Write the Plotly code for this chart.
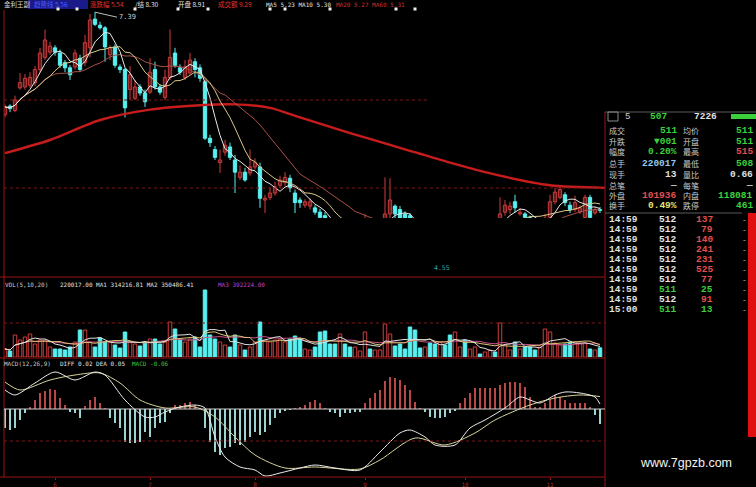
import plotly.graph_objects as go
import pandas as pd

W, H = 756, 487

# ---------------- data ----------------
opens = [6.21, 6.31, 6.26, 6.52, 6.53, 6.55, 6.58, 6.73, 6.87, 6.93,
         6.98, 6.92, 6.81, 6.75, 6.76, 6.86, 6.81, 6.98, 7.31, 7.24,
         7.21, 6.90, 6.99, 6.76, 6.73, 6.50, 6.40, 6.53, 6.46, 6.47,
         6.73, 6.53, 6.41, 6.64, 6.92, 6.75, 6.64, 6.69, 6.82, 6.75,
         6.59, 5.94, 5.81, 5.66, 5.78, 5.84, 5.69, 5.49, 5.55, 5.54,
         5.61, 5.61, 5.23, 5.26, 5.31, 5.40, 5.43, 5.48, 5.31, 5.23,
         5.17, 5.16, 5.14, 5.09, 5.05, 4.98, 4.86, 4.75, 4.82, 4.72,
         4.66, 4.71, 4.79, 4.86, 4.81, 4.91, 5.00, 5.07, 5.16, 5.12,
         5.07, 5.05, 5.00, 4.91, 4.82, 4.87, 4.77, 4.68, 4.75, 4.66,
         4.59, 4.66, 4.73, 4.68, 4.77, 4.84, 4.80, 4.89, 4.95, 4.98,
         5.09, 5.12, 5.21, 5.07, 5.07, 5.03, 4.98, 4.91, 4.97, 5.03,
         5.21, 5.26, 5.29, 5.17, 5.12, 5.09, 5.03, 5.26, 5.08, 5.12]
highs = [6.33, 6.33, 6.43, 6.69, 6.68, 6.70, 6.77, 6.98, 7.19, 7.05,
         7.01, 6.96, 6.84, 6.78, 6.96, 6.90, 7.13, 7.37, 7.39, 7.28,
         7.23, 7.01, 7.02, 6.79, 6.75, 6.77, 6.61, 6.56, 6.50, 6.86,
         6.82, 6.56, 6.73, 7.19, 6.98, 6.79, 6.84, 6.92, 6.86, 6.79,
         6.61, 5.98, 5.85, 5.81, 5.92, 5.89, 5.75, 5.63, 5.60, 5.81,
         5.71, 5.66, 5.29, 5.37, 5.44, 5.51, 5.55, 5.52, 5.35, 5.26,
         5.24, 5.25, 5.17, 5.13, 5.09, 5.00, 4.91, 4.86, 4.85, 4.77,
         4.77, 4.84, 5.07, 4.91, 4.95, 5.02, 5.49, 5.48, 5.18, 5.16,
         5.10, 5.08, 5.01, 4.93, 4.92, 4.90, 4.80, 4.78, 4.78, 4.69,
         4.70, 4.76, 4.76, 4.80, 4.87, 4.87, 4.92, 4.99, 4.98, 5.26,
         5.23, 5.21, 5.29, 5.14, 5.09, 5.05, 5.00, 5.00, 5.07, 5.29,
         5.37, 5.39, 5.32, 5.21, 5.28, 5.17, 5.29, 5.29, 5.15, 5.15]
lows = [6.18, 6.24, 6.24, 6.50, 6.50, 6.52, 6.54, 6.70, 6.84, 6.90,
        6.89, 6.75, 6.70, 6.61, 6.73, 6.70, 6.77, 6.87, 7.23, 7.19,
        6.82, 6.84, 6.75, 6.69, 6.18, 6.38, 6.38, 6.43, 6.30, 6.45,
        6.50, 6.44, 6.38, 6.61, 6.75, 6.67, 6.61, 6.67, 6.64, 6.59,
        5.92, 5.84, 5.69, 5.54, 5.74, 5.69, 5.31, 5.46, 5.44, 5.51,
        5.58, 5.14, 5.08, 5.23, 5.28, 5.37, 5.39, 5.32, 5.08, 5.14,
        5.14, 5.12, 5.06, 4.98, 4.93, 4.83, 4.72, 4.70, 4.68, 4.61,
        4.59, 4.68, 4.77, 4.77, 4.79, 4.88, 4.98, 5.02, 5.02, 4.98,
        4.98, 4.95, 4.88, 4.80, 4.79, 4.74, 4.66, 4.64, 4.62, 4.55,
        4.56, 4.63, 4.65, 4.66, 4.74, 4.77, 4.78, 4.86, 4.88, 4.95,
        5.05, 5.07, 5.09, 5.05, 5.00, 4.94, 4.88, 4.89, 4.89, 5.00,
        5.18, 5.24, 5.16, 5.08, 5.09, 5.07, 5.01, 5.01, 5.06, 5.08]
closes = [6.30, 6.28, 6.38, 6.58, 6.63, 6.64, 6.73, 6.92, 7.07, 7.00,
          6.93, 6.78, 6.75, 6.67, 6.92, 6.73, 7.04, 7.30, 7.25, 7.21,
          6.99, 6.98, 6.78, 6.73, 6.29, 6.67, 6.53, 6.46, 6.36, 6.70,
          6.53, 6.47, 6.64, 6.87, 6.78, 6.70, 6.76, 6.84, 6.73, 6.63,
          5.94, 5.89, 5.72, 5.69, 5.86, 5.72, 5.55, 5.55, 5.46, 5.61,
          5.66, 5.25, 5.25, 5.31, 5.38, 5.46, 5.49, 5.37, 5.20, 5.20,
          5.21, 5.21, 5.09, 5.03, 4.98, 4.86, 4.77, 4.82, 4.72, 4.66,
          4.72, 4.79, 4.86, 4.81, 4.91, 4.98, 5.07, 5.23, 5.07, 5.02,
          5.02, 5.00, 4.91, 4.84, 4.89, 4.77, 4.70, 4.75, 4.66, 4.59,
          4.66, 4.73, 4.68, 4.77, 4.84, 4.80, 4.89, 4.95, 4.91, 5.07,
          5.17, 5.16, 5.14, 5.09, 5.03, 4.98, 4.91, 4.97, 5.02, 5.21,
          5.32, 5.35, 5.20, 5.12, 5.20, 5.14, 5.26, 5.03, 5.12, 5.11]
# volume in thousands of lots
volumes_k = [192, 144, 528, 408, 480, 552, 312, 408, 408, 240,
             192, 192, 168, 240, 360, 648, 648, 360, 240, 456,
             360, 360, 288, 216, 600, 360, 312, 264, 336, 432,
             432, 312, 360, 840, 672, 432, 360, 432, 480, 240,
             1608, 528, 432, 360, 288, 240, 528, 288, 168, 240,
             360, 840, 408, 360, 408, 432, 360, 432, 504, 432,
             192, 168, 240, 600, 624, 312, 312, 552, 312, 240,
             240, 144, 600, 192, 168, 168, 792, 552, 264, 312,
             192, 720, 648, 216, 240, 336, 312, 360, 288, 528,
             600, 240, 408, 192, 240, 72, 120, 168, 120, 816,
             288, 168, 360, 192, 240, 240, 168, 240, 672, 600,
             336, 288, 312, 360, 360, 336, 336, 192, 168, 220]
macd_hist = [-0.076, -0.084, -0.076, -0.044, -0.016, 0.008, 0.036, 0.064, 0.072, 0.080,
             0.076, 0.044, 0.016, -0.012, -0.016, -0.036, 0.012, 0.036, 0.048, 0.024,
             0.004, -0.036, -0.056, -0.076, -0.132, -0.136, -0.136, -0.132, -0.092, -0.112,
             -0.076, -0.056, -0.052, -0.016, 0.016, 0.016, 0.024, 0.028, 0.016, 0.004,
             -0.076, -0.132, -0.172, -0.184, -0.156, -0.152, -0.136, -0.144, -0.132, -0.112,
             -0.092, -0.104, -0.092, -0.064, -0.036, -0.016, -0.008, -0.004, 0.004, 0.008,
             0.016, 0.028, 0.036, 0.024, 0.004, -0.012, -0.016, -0.032, -0.016, -0.016,
             -0.012, -0.012, 0.024, 0.044, 0.064, 0.076, 0.112, 0.128, 0.124, 0.116,
             0.096, 0.076, 0.028, 0.004, -0.012, -0.032, -0.036, -0.036, -0.032, -0.016,
             -0.008, 0.024, 0.044, 0.064, 0.084, 0.084, 0.084, 0.084, 0.084, 0.096,
             0.104, 0.108, 0.108, 0.104, 0.088, 0.048, 0.008, 0.008, 0.024, 0.040,
             0.056, 0.048, 0.036, 0.024, 0.024, 0.024, 0.024, 0.008, -0.024, -0.060]
diff_idx = [0, 2, 6, 10, 14, 18, 20, 24, 28, 30, 32, 35, 38, 40, 42, 44, 47, 50, 52, 55,
            59, 62, 66, 71, 75, 79, 81, 84, 86, 90, 93, 96, 100, 103, 105, 107, 110, 112,
            115, 118, 119]
diff_val = [0.076, 0.056, 0.104, 0.148, 0.116, 0.148, 0.136, 0.036, -0.032, -0.032,
            -0.012, 0.008, 0.016, 0.004, -0.112, -0.192, -0.232, -0.244, -0.268, -0.256,
            -0.236, -0.224, -0.236, -0.244, -0.172, -0.096, -0.084, -0.112, -0.144, -0.144,
            -0.076, -0.044, 0.004, 0.048, 0.036, 0.024, 0.056, 0.068, 0.064, 0.048, 0.020]
dea_idx = [0, 3, 9, 14, 19, 23, 27, 32, 38, 42, 46, 50, 56, 62, 71, 75, 82, 88, 94, 98,
           105, 110, 115, 119]
dea_val = [0.108, 0.076, 0.116, 0.136, 0.144, 0.104, 0.036, 0.004, 0.008, -0.032,
           -0.112, -0.184, -0.236, -0.232, -0.240, -0.204, -0.116, -0.144, -0.096, -0.044,
           0.016, 0.044, 0.056, 0.050]
ma_long_idx = [0, 9, 19, 29, 39, 46, 53, 59, 69, 79, 89, 99, 109, 120]
ma_long_val = [5.77, 5.92, 6.15, 6.27, 6.32, 6.33, 6.29, 6.18, 6.00, 5.83, 5.66, 5.51, 5.40, 5.37]
month_tick_idx = [10, 29, 50, 72, 92, 109]
month_tick_labels = ["6", "7", "8", "9", "10", "11"]

quote_l_labels = ["成交", "升跌", "幅度", "总手", "现手", "总笔", "外盘", "换手"]
quote_l_values = ["511", "▼001", "0.20%", "220017", "13", "—", "101936", "0.49%"]
quote_l_colors = ["#3cd03c", "#3cd03c", "#3cd03c", "#8fc8f0", "#e0e0e0", "#c0c0c0", "#e05050", "#e8e070"]
quote_r_labels = ["均价", "开盘", "最高", "最低", "量比", "每笔", "内盘", "跌停"]
quote_r_values = ["511", "511", "515", "508", "0.66", "—", "118081", "461"]
quote_r_colors = ["#3cd03c", "#3cd03c", "#e05050", "#3cd03c", "#e0e0e0", "#c0c0c0", "#3cd03c", "#3cd03c"]
tick_times = ["14:59"] * 9 + ["15:00"]
tick_prices = [512, 512, 512, 512, 512, 512, 512, 511, 512, 511]
tick_vols = [137, 79, 140, 241, 231, 525, 77, 25, 91, 13]

# ---------------- helpers ----------------
def px(x):
    return x / W

def py(y):
    return 1 - y / H

RED = "#d03c3c"
CYAN = "#58f0f0"
FRAME = "#9a1414"

n = len(closes)
idx = list(range(n))
up = [c >= o for o, c in zip(opens, closes)]

s = pd.Series(closes)
ma5 = s.rolling(5, min_periods=1).mean()
ma10 = s.rolling(10, min_periods=1).mean()
ma20 = s.rolling(20, min_periods=1).mean()
v = pd.Series(volumes_k)
vma5 = v.rolling(5, min_periods=1).mean()
vma10 = v.rolling(10, min_periods=1).mean()
vma20 = v.rolling(20, min_periods=1).mean()

fig = go.Figure()

# ---- price panel ----
for flag, col in [(True, RED), (False, CYAN)]:
    xs, ys = [], []
    for i in idx:
        if up[i] == flag:
            xs += [i, i, None]
            ys += [lows[i], highs[i], None]
    fig.add_trace(go.Scatter(x=xs, y=ys, mode="lines", line=dict(color=col, width=1),
                             xaxis="x", yaxis="y", hoverinfo="skip"))

body_base = [min(o, c) for o, c in zip(opens, closes)]
body_h = [max(abs(c - o), 0.006) for o, c in zip(opens, closes)]
fig.add_trace(go.Bar(x=idx, y=body_h, base=body_base, width=0.66,
                     marker=dict(color=["#000000" if u else CYAN for u in up],
                                 line=dict(color=[RED if u else CYAN for u in up], width=1)),
                     xaxis="x", yaxis="y", hoverinfo="skip"))

fig.add_trace(go.Scatter(x=ma_long_idx, y=ma_long_val, mode="lines",
                         line=dict(color="#c81c1c", width=2.4, shape="spline", smoothing=0.8),
                         xaxis="x", yaxis="y", hoverinfo="skip"))
fig.add_trace(go.Scatter(x=idx, y=ma20, mode="lines", line=dict(color="#a8504a", width=1),
                         xaxis="x", yaxis="y", hoverinfo="skip"))
fig.add_trace(go.Scatter(x=idx, y=ma10, mode="lines", line=dict(color="#d8c888", width=1),
                         xaxis="x", yaxis="y", hoverinfo="skip"))
fig.add_trace(go.Scatter(x=idx, y=ma5, mode="lines", line=dict(color="#e8e8e8", width=1),
                         xaxis="x", yaxis="y", hoverinfo="skip"))

# ---- volume panel ----
fig.add_trace(go.Bar(x=idx, y=volumes_k, width=0.7,
                     marker=dict(color=["#000000" if u else CYAN for u in up],
                                 line=dict(color=[RED if u else CYAN for u in up], width=1)),
                     xaxis="x2", yaxis="y2", hoverinfo="skip"))
fig.add_trace(go.Scatter(x=idx, y=vma20, mode="lines", line=dict(color="#c8508a", width=1),
                         xaxis="x2", yaxis="y2", hoverinfo="skip"))
fig.add_trace(go.Scatter(x=idx, y=vma10, mode="lines", line=dict(color="#d8c070", width=1),
                         xaxis="x2", yaxis="y2", hoverinfo="skip"))
fig.add_trace(go.Scatter(x=idx, y=vma5, mode="lines", line=dict(color="#e0e0e0", width=1),
                         xaxis="x2", yaxis="y2", hoverinfo="skip"))

# ---- MACD panel ----
fig.add_trace(go.Bar(x=idx, y=macd_hist, width=0.24,
                     marker=dict(color=["#b84848" if m > 0 else "#9cd4d4" for m in macd_hist],
                                 line=dict(width=0)),
                     xaxis="x3", yaxis="y3", hoverinfo="skip"))
fig.add_trace(go.Scatter(x=dea_idx, y=dea_val, mode="lines",
                         line=dict(color="#d8d49a", width=1, shape="spline", smoothing=0.8),
                         xaxis="x3", yaxis="y3", hoverinfo="skip"))
fig.add_trace(go.Scatter(x=diff_idx, y=diff_val, mode="lines",
                         line=dict(color="#ececec", width=1, shape="spline", smoothing=0.8),
                         xaxis="x3", yaxis="y3", hoverinfo="skip"))

# ---------------- layout ----------------
xdom = [px(4), px(605)]
xr = [-0.2, 120]
hide = dict(showgrid=False, zeroline=False, showticklabels=False, showline=False, ticks="")

layout_axes = dict(
    xaxis=dict(domain=xdom, range=xr, anchor="y", **hide),
    yaxis=dict(domain=[py(218), py(10)], range=[5.023, 7.415], anchor="x", **hide),
    xaxis2=dict(domain=xdom, range=xr, anchor="y2", matches="x", **hide),
    yaxis2=dict(domain=[py(357), py(288)], range=[0, 1656], anchor="x2", **hide),
    xaxis3=dict(domain=xdom, range=xr, anchor="y3", matches="x", showgrid=False, zeroline=False,
                showline=False, ticks="outside", ticklen=2, tickcolor=FRAME,
                tickvals=month_tick_idx, ticktext=month_tick_labels,
                tickfont=dict(family="DejaVu Sans Mono", size=6, color="#a03030")),
    yaxis3=dict(domain=[py(477), py(366)], range=[-0.272, 0.172], anchor="x3", **hide),
)

shapes = []
def hline(y, x0, x1, color=FRAME, width=1, dash="solid"):
    shapes.append(dict(type="line", xref="paper", yref="paper", x0=px(x0), x1=px(x1),
                       y0=py(y), y1=py(y), line=dict(color=color, width=width, dash=dash)))
def vline(x, y0, y1, color=FRAME, width=1):
    shapes.append(dict(type="line", xref="paper", yref="paper", x0=px(x), x1=px(x),
                       y0=py(y0), y1=py(y1), line=dict(color=color, width=width)))
def rect(x0, y0, x1, y1, fill, line=None):
    shapes.append(dict(type="rect", xref="paper", yref="paper", x0=px(x0), x1=px(x1),
                       y0=py(y1), y1=py(y0), fillcolor=fill,
                       line=dict(width=0 if line is None else 1, color=line or fill)))

# header band
rect(28, 0, 88, 9, "#1a1a88")
for sx in [58, 77, 135, 178, 208, 270, 285, 330, 396, 415]:
    rect(sx - 1.5, 7.5, sx + 1.5, 10.5, "#f0f0f0")
# frames
vline(4, 10, 477)
vline(605, 112, 487)
hline(277, 0, 605)
hline(358, 0, 605)
hline(477, 0, 605)
# dotted grids
hline(100, 4, 427, color="#7a1a1a", dash="dot")
hline(188, 4, 605, color="#7a1a1a", dash="dot")
hline(323, 4, 605, color="#7a1a1a", dash="dot")
hline(441, 4, 605, color="#7a1a1a", dash="dot")
# MACD zero line
shapes.append(dict(type="line", xref="paper", yref="y3", x0=px(4), x1=px(605), y0=0, y1=0,
                   line=dict(color="#d0d0d0", width=1)))
# right panel decorations
hline(112, 605, 756, color="#5a5a5a")
hline(213, 605, 742, color="#5a5a5a")
rect(608, 112, 618, 121, "rgba(0,0,0,0)", line="#8a8a8a")
rect(731, 114, 756, 119, "#3cd03c")
rect(748, 213, 756, 437, "#e01010")

annotations = []
def txt(x, y, s, color="#d0d0d0", size=7, family="DejaVu Sans Mono", anchor="left", weight="normal"):
    annotations.append(dict(x=px(x), y=py(y), xref="paper", yref="paper", text=s,
                            showarrow=False, xanchor=anchor, yanchor="middle",
                            font=dict(family=family, size=size, color=color, weight=weight)))

CJK = "Noto Sans CJK SC"
# top header
txt(2, 4.5, "金利王副", "#d8d8d8", 6.5, CJK)
txt(32, 4.5, "趋势线 5.56", "#4a5cff", 6.5, CJK)
txt(88, 4.5, "涨跌幅 5.54", "#e03030", 6.5, CJK)
txt(133, 4.5, "/结 8.30", "#e0e0e0", 6.5, CJK)
txt(176, 4.5, "开盘 8.91", "#e0e0e0", 6.5, CJK)
txt(216, 4.5, "成交额 9.29", "#e03030", 6.5, CJK)
txt(264, 4.5, "MA5 5.23 MA10 5.30", "#e0e0e0", 6)
txt(334, 4.5, "MA20 5.27 MA60 5.31", "#d03030", 6)

# price high label
annotations.append(dict(x=18, y=7.39, xref="x", yref="y", text="7.39", showarrow=True,
                        arrowhead=0, arrowwidth=1, arrowcolor="#bdbdbd", ax=22, ay=5,
                        xanchor="left", font=dict(family="DejaVu Sans Mono", size=7, color="#cfcfcf")))
txt(432, 268, "4.55", "#3aa0a0", 6.5)

# volume header
txt(3, 284, "VOL(5,10,20)", "#c8c8c8", 6)
txt(58, 284, "220017.00 MA1 314216.81 MA2 350486.41", "#e0e0e0", 6)
txt(216, 284, "MA3 392224.00", "#c040c8", 6)

# MACD header
txt(2, 363, "MACD(12,26,9)", "#c8c8c8", 6)
txt(58, 363, "DIFF 0.02 DEA 0.05", "#e0e0e0", 6)
txt(130, 363, "MACD -0.06", "#3cc83c", 6)

# right panel
NUM = "Liberation Mono"
txt(623, 117, "5", "#d0d0d0", 9, NUM)
txt(648, 117, "507", "#3cd03c", 9.5, NUM, weight="bold")
txt(692, 117, "7226", "#e0e0e0", 9.5, NUM, weight="bold")
row_y = [130, 141, 152, 163, 174, 185, 196, 206]
for k, y in enumerate(row_y):
    txt(607, y, quote_l_labels[k], "#c8c8c8", 8, CJK)
    txt(679, y, quote_l_values[k], quote_l_colors[k], 9.5, NUM, anchor="right", weight="bold")
    txt(681, y, quote_r_labels[k], "#c8c8c8", 8, CJK)
    txt(755, y, quote_r_values[k], quote_r_colors[k], 9.5, NUM, anchor="right", weight="bold")
for k in range(len(tick_times)):
    y = 219 + 10.1 * k
    txt(607, y, tick_times[k], "#e0e0e0", 9.5, NUM, weight="bold")
    pc = "#e8e8e8" if tick_prices[k] >= 512 else "#3cd03c"
    txt(657, y, str(tick_prices[k]), pc, 9.5, NUM, weight="bold")
    vc = "#e05050" if tick_prices[k] >= 512 else "#3cd03c"
    txt(715, y, str(tick_vols[k]), vc, 9.5, NUM, anchor="right", weight="bold")
    txt(744, y, "-", "#bdbdbd", 8, NUM, anchor="center")

# watermark
txt(638, 463, "www.7gpzb.com", "#f2f2f2", 12.5, "Liberation Sans")

fig.update_layout(
    width=W, height=H, margin=dict(l=0, r=0, t=0, b=0),
    paper_bgcolor="#000000", plot_bgcolor="#000000",
    showlegend=False, barmode="overlay", bargap=0,
    shapes=shapes, annotations=annotations, hovermode=False,
    **layout_axes,
)

fig.write_html("out.html", config={"displayModeBar": False, "staticPlot": True},
               post_script="document.body.style.margin='0';document.body.style.background='#000';")
